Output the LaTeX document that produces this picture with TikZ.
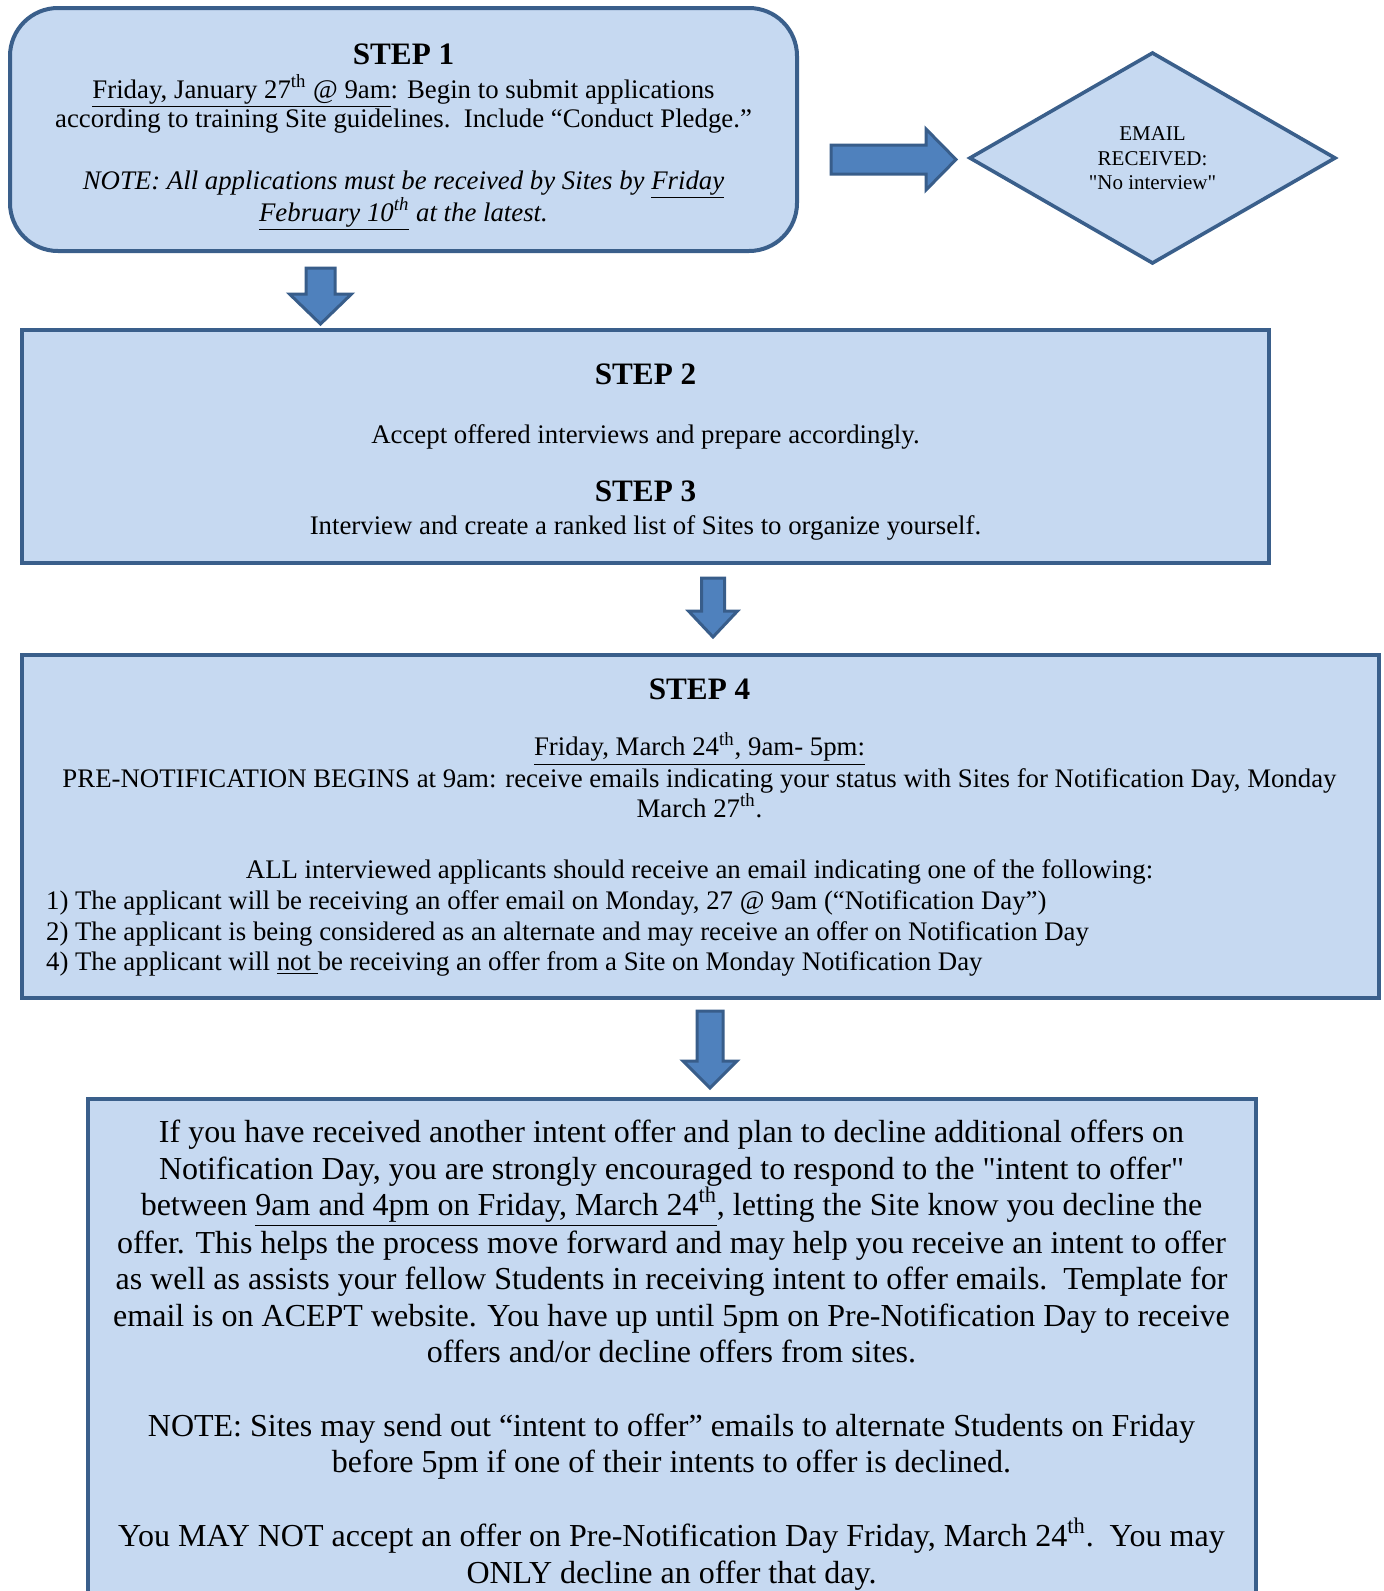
\documentclass[tikz,border=0pt]{standalone}
\usepackage{fontspec}
\setmainfont{Liberation Serif}
\usetikzlibrary{calc}
\definecolor{boxfill}{HTML}{C6D9F1}
\definecolor{boxline}{HTML}{3A5F8B}
\definecolor{arrfill}{HTML}{4F81BD}
\definecolor{arrline}{HTML}{385D8A}
\newcommand{\sq}{\XeTeXglyph\XeTeXglyphindex "quotedbl"\relax}
\newcommand{\blockdown}[6]{% x, top, headstart, tip, halfshaft, halfhead
  \draw[arrowshape] (#1-#5,#2) -- (#1+#5,#2) -- (#1+#5,#3) -- (#1+#6,#3) -- (#1,#4)
    -- (#1-#6,#3) -- (#1-#5,#3) -- cycle;}
\tikzset{
  boxstyle/.style={draw=boxline, fill=boxfill, line width=2pt, inner sep=0pt},
  arrowshape/.style={draw=arrline, fill=arrfill, line width=1.5pt, line join=miter},
  txt/.style={anchor=base, inner sep=0pt, font=\fontsize{13.4}{15.4}\selectfont},
  txtl/.style={txt, anchor=base west},
  big/.style={anchor=base, inner sep=0pt, font=\fontsize{16}{18.5}\selectfont},
  head/.style={anchor=base, inner sep=0pt, font=\fontsize{15.6}{18}\selectfont\bfseries},
  small/.style={anchor=base, inner sep=0pt, font=\fontsize{10.5}{12}\selectfont}
}
\begin{document}
\begin{tikzpicture}[x=0.5pt, y=-0.5pt]
\useasboundingbox (0,0) rectangle (1383,1591);
\clip (0,0) rectangle (1383,1591);
\fill[white] (0,0) rectangle (1383,1591);

% ---- boxes
\node[boxstyle, rounded corners=24pt, minimum width=393.5pt, minimum height=121.5pt] (s1) at (403.5,129.5) {};
\node[boxstyle, minimum width=623.5pt, minimum height=116.5pt] (s2) at (645.5,446.5) {};
\node[boxstyle, minimum width=678.5pt, minimum height=171.5pt] (s4) at (700.5,826.5) {};
\node[boxstyle, minimum width=584pt, minimum height=300.5pt] (s5) at (672,1399.5) {};

% ---- diamond
\draw[draw=boxline, fill=boxfill, line width=1.8pt, line join=miter]
  (970,158) coordinate (dl) -- (1152.5,53) coordinate (dt) -- (1335,158) coordinate (dr)
  -- (1152.5,263) coordinate (db) -- cycle;
\node[small] (d1) at (1152.5,140) {EMAIL};
\node[small] (d2) at (1152.5,165) {RECEIVED:};
\node[small] (d3) at (1152.5,189.5) {\sq No interview\sq};

% ---- block arrows
\draw[arrowshape] (831,145) -- (926,145) -- (926,129) -- (956,159.5) -- (926,190)
  -- (926,174) -- (831,174) -- cycle;
\blockdown{320.5}{268}{294}{324}{14.5}{31}
\blockdown{713}{578}{611}{637}{11.5}{24.5}
\blockdown{710}{1011}{1061}{1088}{13}{27}

% ---- step 1 text
\node[head] (t1h) at (403.5,64) {STEP 1};
\node[txt] (t1a) at (403.5,98) {\underline{Friday, January 27\textsuperscript{th} @ 9am}: Begin to submit applications};
\node[txt] (t1b) at (403.5,127.5) {according to training Site guidelines.\ \ Include “Conduct Pledge.”};
\node[txt] (t1c) at (403.5,189) {\itshape NOTE: All applications must be received by Sites by \underline{Friday}};
\node[txt] (t1d) at (403.5,221) {\itshape \underline{February 10\textsuperscript{th}} at the latest.};

% ---- step 2/3 text
\node[head] (t2h) at (645.5,384.5) {STEP 2};
\node[txt] (t2a) at (645.5,443) {Accept offered interviews and prepare accordingly.};
\node[head] (t3h) at (645.5,501) {STEP 3};
\node[txt] (t3a) at (645.5,534) {Interview and create a ranked list of Sites to organize yourself.};

% ---- step 4 text
\node[head] (t4h) at (699.5,699) {STEP 4};
\node[txt] (t4a) at (699.5,755.5) {\underline{Friday, March 24\textsuperscript{th}, 9am- 5pm:}};
\node[txt] (t4b) at (699.5,787) {PRE-NOTIFICATION BEGINS at 9am: receive emails indicating your status with Sites for Notification Day, Monday};
\node[txt] (t4c) at (699.5,817) {March 27\textsuperscript{th}.};
\node[txt] (t4d) at (699.5,878) {ALL interviewed applicants should receive an email indicating one of the following:};
\node[txtl] (t4e) at (45.7,909.5) {1) The applicant will be receiving an offer email on Monday, 27 @ 9am (“Notification Day”)};
\node[txtl] (t4f) at (45.7,940) {2) The applicant is being considered as an alternate and may receive an offer on Notification Day};
\node[txtl] (t4g) at (45.7,970.5) {4) The applicant will \underline{not\ }be receiving an offer from a Site on Monday Notification Day};

% ---- bottom box text
\node[big] (b1) at (671.5,1142) {If you have received another intent offer and plan to decline additional offers on};
\node[big] (b2) at (671.5,1179) {Notification Day, you are strongly encouraged to respond to the \sq intent to offer\sq};
\node[big] (b3) at (671.5,1215.5) {between \underline{9am and 4pm on Friday, March 24\textsuperscript{th}}, letting the Site know you decline the};
\node[big] (b4) at (671.5,1253) {offer. This helps the process move forward and may help you receive an intent to offer};
\node[big] (b5) at (671.5,1289.5) {as well as assists your fellow Students in receiving intent to offer emails.\ \ Template for};
\node[big] (b6) at (671.5,1326) {email is on ACEPT website. You have up until 5pm on Pre-Notification Day to receive};
\node[big] (b7) at (671.5,1362.5) {offers and/or decline offers from sites.};
\node[big] (b8) at (671.5,1436.5) {NOTE: Sites may send out “intent to offer” emails to alternate Students on Friday};
\node[big] (b9) at (671.5,1472) {before 5pm if one of their intents to offer is declined.};
\node[big] (b10) at (671.5,1546) {You MAY NOT accept an offer on Pre-Notification Day Friday, March 24\textsuperscript{th}.\ \ You may};
\node[big] (b11) at (671.5,1583) {ONLY decline an offer that day.};
\end{tikzpicture}
\end{document}
